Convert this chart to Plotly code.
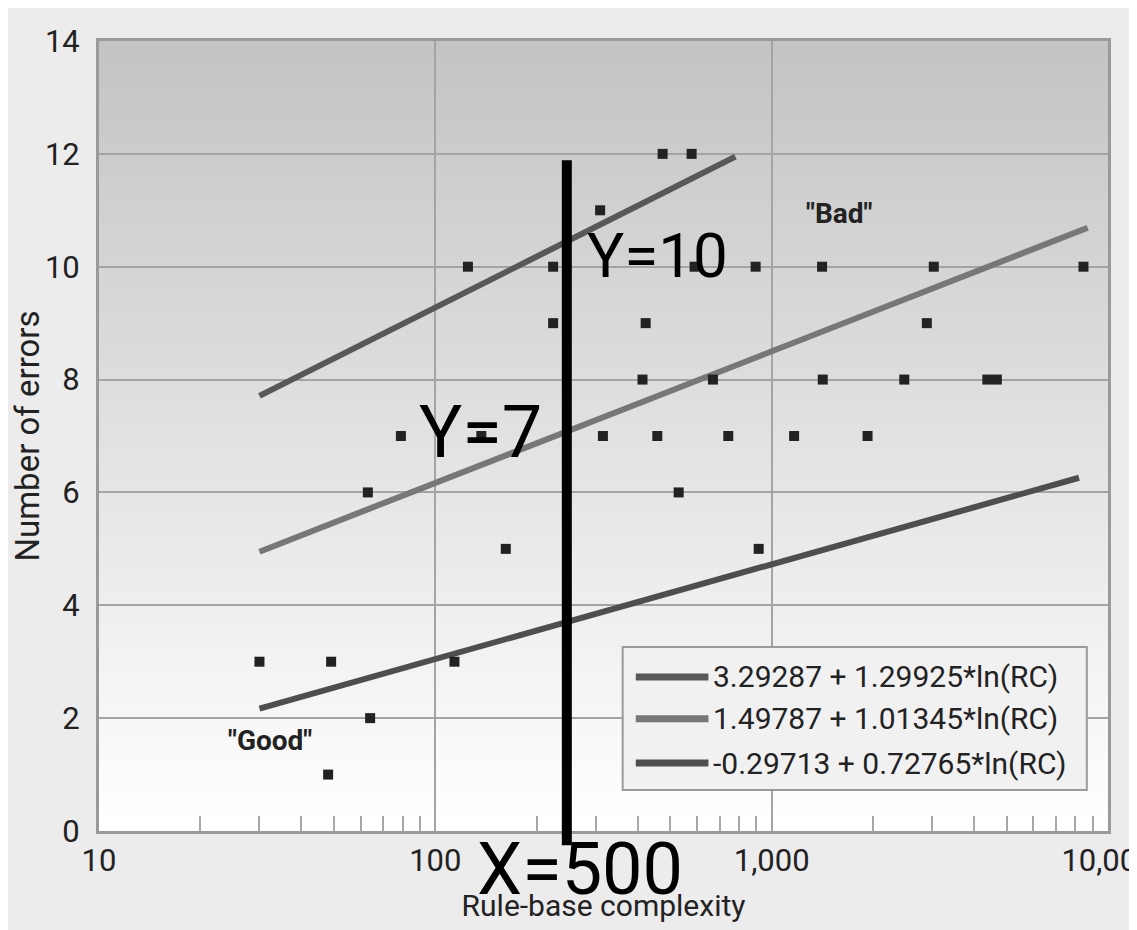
import plotly.graph_objects as go

# ---------------- data ----------------
# scatter points: rule-base complexity (x) vs number of errors (y)
rc_values = [474, 578,
             309,
             125, 224, 590, 896, 1412, 3034, 8455,
             224, 422, 2893,
             413, 669, 1419, 2479, 4377, 4672,
             79, 137, 315, 457, 743, 1166, 1928,
             63, 529,
             162, 915,
             30, 49, 114,
             64,
             48]
err_values = [12, 12,
              11,
              10, 10, 10, 10, 10, 10, 10,
              9, 9, 9,
              8, 8, 8, 8, 8, 8,
              7, 7, 7, 7, 7, 7, 7,
              6, 6,
              5, 5,
              3, 3, 3,
              2,
              1]

# fitted trend lines (end points)
fit_labels = ["3.29287 + 1.29925*ln(RC)",
              "1.49787 + 1.01345*ln(RC)",
              "-0.29713 + 0.72765*ln(RC)"]
fit_x_start = [30, 30, 30]
fit_x_end = [780, 8700, 8200]
fit_y_start = [7.71, 4.95, 2.17]
fit_y_end = [11.95, 10.69, 6.26]
fit_colors = ["#585858", "#777777", "#4e4e4e"]

x_tickvals = [10, 100, 1000, 10000]
x_ticktext = ["10", "100", "1,000", "10,000"]
x_minor = [20, 30, 40, 50, 60, 70, 80, 90,
           200, 300, 400, 500, 600, 700, 800, 900,
           2000, 3000, 4000, 5000, 6000, 7000, 8000, 9000]
y_tickvals = [0, 2, 4, 6, 8, 10, 12, 14]

marker_x_line = 246  # hand-drawn vertical line position

NARROW = "Roboto, Liberation Sans, sans-serif"

fig = go.Figure()

for lab, x0, x1, y0, y1, c in zip(fit_labels, fit_x_start, fit_x_end,
                                  fit_y_start, fit_y_end, fit_colors):
    fig.add_trace(go.Scatter(x=[x0, x1], y=[y0, y1], mode="lines", name=lab,
                             line=dict(color=c, width=6), showlegend=False))

fig.add_trace(go.Scatter(x=rc_values, y=err_values, mode="markers",
                         marker=dict(symbol="square", size=10, color="#222222"),
                         showlegend=False, name="data"))

shapes = []
# vertical gradient background of plot area
n = 60
for i in range(n):
    t0 = i / n
    t1 = (i + 1) / n
    g = int(round(255 - (255 - 196) * (t0 + 0.5 / n)))
    shapes.append(dict(type="rect", xref="x domain", yref="y domain",
                       x0=0, x1=1, y0=t0, y1=t1 + 0.002, layer="below",
                       line=dict(width=0),
                       fillcolor=f"rgb({g},{g},{g})"))

# legend box
shapes.append(dict(type="rect", xref="paper", yref="paper",
                   x0=0.519, x1=0.979, y0=0.052, y1=0.233,
                   fillcolor="#f1f1f1", line=dict(color="#9a9a9a", width=2)))
leg_y = [0.195, 0.142, 0.086]
annotations = []
for lab, c, yy in zip(fit_labels, fit_colors, leg_y):
    shapes.append(dict(type="line", xref="paper", yref="paper",
                       x0=0.532, x1=0.604, y0=yy, y1=yy,
                       line=dict(color=c, width=7)))
    annotations.append(dict(xref="paper", yref="paper", x=0.607, y=yy,
                            text=lab, showarrow=False,
                            xanchor="left", yanchor="middle",
                            font=dict(family=NARROW, size=30, color="#222222")))

# hand-drawn black vertical line
shapes.append(dict(type="line", xref="x", yref="paper",
                   x0=marker_x_line, x1=marker_x_line, y0=-0.018, y1=0.849,
                   line=dict(color="black", width=10), layer="above"))

def note(x, y, text, size, color, bold=False):
    return dict(xref="paper", yref="paper", x=x, y=y,
                text=f"<b>{text}</b>" if bold else text,
                showarrow=False, xanchor="center", yanchor="middle",
                font=dict(family=NARROW, size=size, color=color))

annotations += [
    note(0.734, 0.782, "\"Bad\"", 28, "#222222", bold=True),
    note(0.169, 0.115, "\"Good\"", 28, "#222222", bold=True),
    note(0.554, 0.729, "Y=10", 62, "black"),
    note(0.378, 0.505, "Y=7", 72, "black"),
    note(0.477, -0.049, "X=500", 72, "black"),
]

fig.update_layout(
    width=1129, height=922,
    margin=dict(l=91, r=29, t=33, b=99, autoexpand=False),
    paper_bgcolor="#ececec",
    plot_bgcolor="rgba(0,0,0,0)",
    shapes=shapes,
    annotations=annotations,
    showlegend=False,
    xaxis=dict(type="log", range=[1, 4], automargin=False,
               tickvals=x_tickvals, ticktext=x_ticktext,
               ticks="", showgrid=True, gridcolor="#a4a4a4", gridwidth=2,
               showline=True, linecolor="#9a9a9a", linewidth=3, mirror=True,
               tickfont=dict(family=NARROW, size=31, color="#222222"),
               ticklabelstandoff=0, ticklabeloverflow="allow",
               minor=dict(tickvals=x_minor, ticks="inside", ticklen=15,
                          tickwidth=2, tickcolor="#a8a8a8", showgrid=False),
               title=dict(text="Rule-base complexity", standoff=17,
                          font=dict(family=NARROW, size=30, color="#222222")),
               zeroline=False),
    yaxis=dict(range=[0, 14], tickvals=y_tickvals, automargin=False,
               showgrid=True, gridcolor="#a4a4a4", gridwidth=2,
               showline=True, linecolor="#9a9a9a", linewidth=3, mirror=True,
               ticks="", zeroline=False,
               tickfont=dict(family=NARROW, size=31, color="#222222"),
               ticklabelstandoff=10,
               title=dict(text="Number of errors", standoff=6,
                          font=dict(family=NARROW, size=33, color="#222222"))),
)

fig.write_html("out.html")
